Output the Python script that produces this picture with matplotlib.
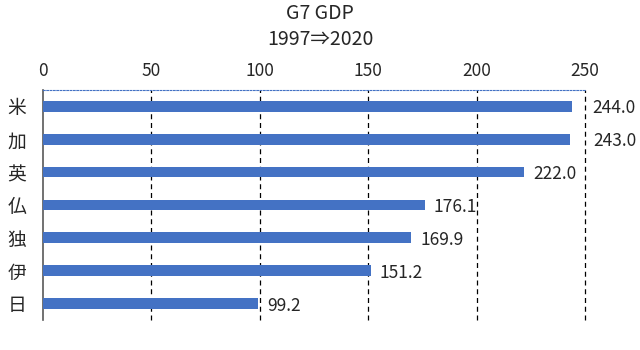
import matplotlib
matplotlib.use("Agg")
import matplotlib.pyplot as plt

plt.rcParams["font.family"] = ["Noto Sans CJK JP", "DejaVu Sans"]

countries = ["米", "加", "英", "仏", "独", "伊", "日"]
growth = [244.0, 243.0, 222.0, 176.1, 169.9, 151.2, 99.2]
xticks = [0, 50, 100, 150, 200, 250]

BLUE = "#4472C4"
TEXT = "#262626"
# labels of the two longest bars were nudged right of the 250 line in the original
label_shift = {0: 15, 1: 17}

fig = plt.figure(figsize=(6.4, 3.5), dpi=100)
ax = fig.add_axes([0.067, 0.086, 0.847, 0.657])

pos = list(range(len(countries)))
ax.barh(pos, growth, height=0.33, color=BLUE, zorder=3)
for i, (y, v) in enumerate(zip(pos, growth)):
    ax.annotate(f"{v:.1f}", (v, y), xytext=(label_shift.get(i, 6.5), -1.5),
                textcoords="offset points", va="center", ha="left",
                fontsize=12.5, color=TEXT, annotation_clip=False)

ax.set_xlim(0, 250)
ax.set_ylim(len(countries) - 0.5, -0.5)
ax.set_yticks(pos)
ax.set_yticklabels(countries, fontsize=13.5)
ax.set_xticks(xticks)
ax.xaxis.tick_top()
ax.tick_params(axis="both", length=0, colors=TEXT)
ax.tick_params(axis="x", pad=7, labelsize=12.5)
ax.tick_params(axis="y", pad=12)

for x in xticks[1:]:
    ax.axvline(x, color="black", lw=0.9, ls=(0, (4, 3)), zorder=1, clip_on=False)

ax.spines["right"].set_visible(False)
ax.spines["bottom"].set_visible(False)
ax.spines["top"].set_color(BLUE)
ax.spines["top"].set_linestyle((0, (1.5, 1.5)))
ax.spines["top"].set_linewidth(0.8)
ax.spines["left"].set_color("#595959")
ax.spines["left"].set_linewidth(1.2)

fig.text(0.5, 1 - 13.5 / 350, "G7 GDP", ha="center", va="center", fontsize=14, color=TEXT)
fig.text(0.5, 1 - 39.5 / 350, "1997⇒2020", ha="center", va="center", fontsize=14, color=TEXT)

fig.savefig("out.png", facecolor="white")
